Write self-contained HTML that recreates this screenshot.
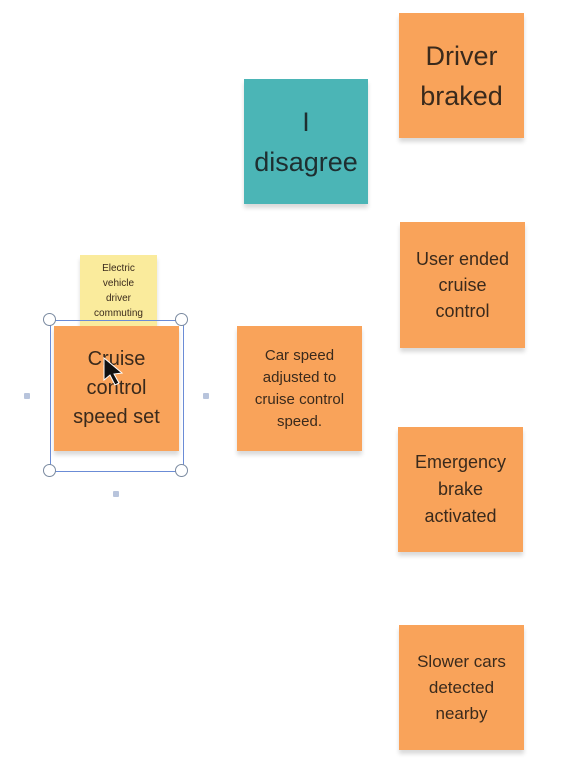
<!DOCTYPE html>
<html><head><style>
body{margin:0;width:571px;height:760px;background:#fff;position:relative;overflow:hidden;font-family:"Liberation Sans",sans-serif}
.n{position:absolute;background:#f9a35a;color:#3a2a1c;display:flex;align-items:center;justify-content:center;text-align:center;box-shadow:0 4px 4px rgba(0,0,0,0.15)}
.h{position:absolute;width:11px;height:11px;border:1.5px solid #7a8aa0;border-radius:50%;background:#fff}
.d{position:absolute;width:6px;height:6px;background:#b8c4dc;border-radius:1px}
</style></head><body>
<div class="n" style="left:399px;top:13px;width:125px;height:125px;font-size:27px;line-height:40px">Driver<br>braked</div>
<div class="n" style="left:244px;top:79px;width:124px;height:125px;background:#4bb5b6;font-size:27px;line-height:40px;color:#1e2e30">I<br>disagree</div>
<div class="n" style="left:400px;top:222px;width:125px;height:126px;font-size:18px;line-height:26px">User ended<br>cruise<br>control</div>
<div class="n" style="left:237px;top:326px;width:125px;height:125px;font-size:15px;line-height:22px">Car speed<br>adjusted to<br>cruise control<br>speed.</div>
<div class="n" style="left:398px;top:427px;width:125px;height:125px;font-size:18px;line-height:27px">Emergency<br>brake<br>activated</div>
<div class="n" style="left:399px;top:625px;width:125px;height:125px;font-size:17px;line-height:26px">Slower cars<br>detected<br>nearby</div>
<div class="n" style="left:80px;top:255px;width:77px;height:75px;background:#faeb9c;font-size:10px;line-height:15px;align-items:flex-start;padding-top:6px;box-sizing:border-box">Electric<br>vehicle<br>driver<br>commuting</div>
<div class="n" style="left:54px;top:326px;width:125px;height:125px;font-size:20px;line-height:29px">Cruise<br>control<br>speed set</div>
<div style="position:absolute;left:50px;top:320px;width:132px;height:150px;border:1.5px solid #6b8cd6"></div>
<div class="h" style="left:43px;top:313px"></div>
<div class="h" style="left:175px;top:313px"></div>
<div class="h" style="left:43px;top:464px"></div>
<div class="h" style="left:175px;top:464px"></div>
<div class="d" style="left:24px;top:393px"></div>
<div class="d" style="left:203px;top:393px"></div>
<div class="d" style="left:113px;top:491px"></div>
<svg style="position:absolute;left:102px;top:356px" width="24" height="32"><path d="M2 2 L2 24 L8 19 L13 29 L17 27 L12 18 L20 17 Z" fill="#111" stroke="#fff" stroke-width="1"/></svg>
</body></html>
